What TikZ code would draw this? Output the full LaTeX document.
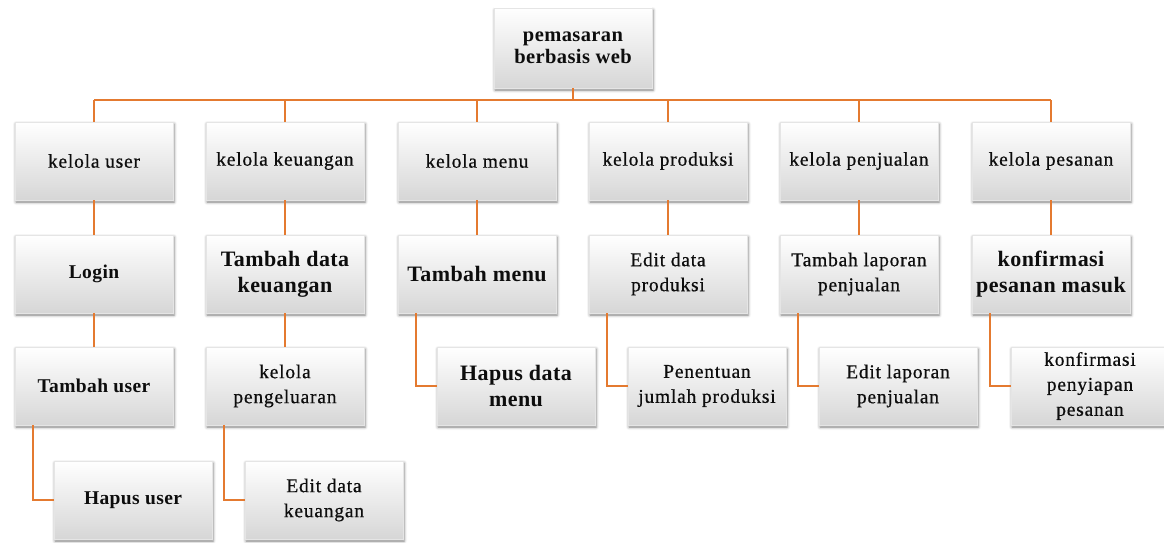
\documentclass[tikz,border=0pt]{standalone}
\usepackage{fontspec}
\setmainfont{Liberation Serif}
\newfontfamily\boxfont[FakeBold=0.6, LetterSpace=4]{Liberation Serif}
\newfontfamily\boxbold[LetterSpace=2]{Liberation Serif Bold}
\usetikzlibrary{shadows.blur}
\definecolor{linkorange}{RGB}{228,122,48}
\tikzset{
  box/.style={rectangle, minimum width=158pt, minimum height=78pt, inner sep=2pt,
    align=center, top color=white, bottom color=black!16, draw=black!10, line width=0.4pt,
    blur shadow={shadow xshift=1pt, shadow yshift=-2pt, shadow blur radius=3pt, shadow opacity=50},
    text=black!95, font=\boxfont\fontsize{19.5}{25}\selectfont},
  big/.style={font=\boxbold\fontsize{22}{26}\selectfont},
  semi/.style={font=\boxbold\fontsize{19.5}{25}\selectfont},
  link/.style={draw=linkorange, line width=2pt}
}
\begin{document}
\begin{tikzpicture}[x=1pt, y=-1pt]
\useasboundingbox (0,0) rectangle (1164,543);

% root
\node[box, minimum height=80pt, font=\boxbold\fontsize{20.5}{22}\selectfont] (root) at (573,48) {pemasaran\\berbasis web};

% first level
\node[box] (user) at (94,161) {kelola user};
\node[box] (uang) at (285,161) {kelola keuangan};
\node[box] (menu) at (477,161) {kelola menu};
\node[box] (prod) at (668,161) {kelola produksi};
\node[box] (jual) at (859,161) {kelola penjualan};
\node[box] (pesan) at (1051,161) {kelola pesanan};

% second level
\node[box, semi] (login) at (94,274) {Login};
\node[box, big] (tduang) at (285,274) {Tambah data\\keuangan};
\node[box, big] (tmenu) at (477,274) {Tambah menu};
\node[box] (eprod) at (668,274) {Edit data\\produksi};
\node[box] (tlap) at (859,274) {Tambah laporan\\penjualan};
\node[box, big] (kmasuk) at (1051,274) {konfirmasi\\pesanan masuk};

% third level
\node[box, semi] (tuser) at (94,386) {Tambah user};
\node[box] (keluar) at (285,386) {kelola\\pengeluaran};
\node[box, big] (hmenu) at (516,386) {Hapus data\\menu};
\node[box] (jprod) at (707,386) {Penentuan\\jumlah produksi};
\node[box] (elap) at (898,386) {Edit laporan\\penjualan};
\node[box] (ksiap) at (1090,386) {konfirmasi\\penyiapan\\pesanan};

% fourth level
\node[box, semi] (huser) at (133,500) {Hapus user};
\node[box] (euang) at (324,500) {Edit data\\keuangan};

% root bus
\coordinate (bus) at (573,100);
\draw[link] (root.south) -- (bus);
\draw[link] (bus -| user.north) -- (bus -| pesan.north);
\foreach \n in {user,uang,menu,prod,jual,pesan}
  \draw[link] (bus -| \n.north) -- (\n.north);

% straight links
\draw[link] (user.south) -- (login.north);
\draw[link] (uang.south) -- (tduang.north);
\draw[link] (menu.south) -- (tmenu.north);
\draw[link] (prod.south) -- (eprod.north);
\draw[link] (jual.south) -- (tlap.north);
\draw[link] (pesan.south) -- (kmasuk.north);
\draw[link] (login.south) -- (tuser.north);
\draw[link] (tduang.south) -- (keluar.north);

% elbow links
\draw[link] ([xshift=18pt]tmenu.south west) |- (hmenu.west);
\draw[link] ([xshift=18pt]eprod.south west) |- (jprod.west);
\draw[link] ([xshift=18pt]tlap.south west) |- (elap.west);
\draw[link] ([xshift=18pt]kmasuk.south west) |- (ksiap.west);
\draw[link] ([xshift=18pt]tuser.south west) |- (huser.west);
\draw[link] ([xshift=18pt]keluar.south west) |- (euang.west);
\end{tikzpicture}
\end{document}
